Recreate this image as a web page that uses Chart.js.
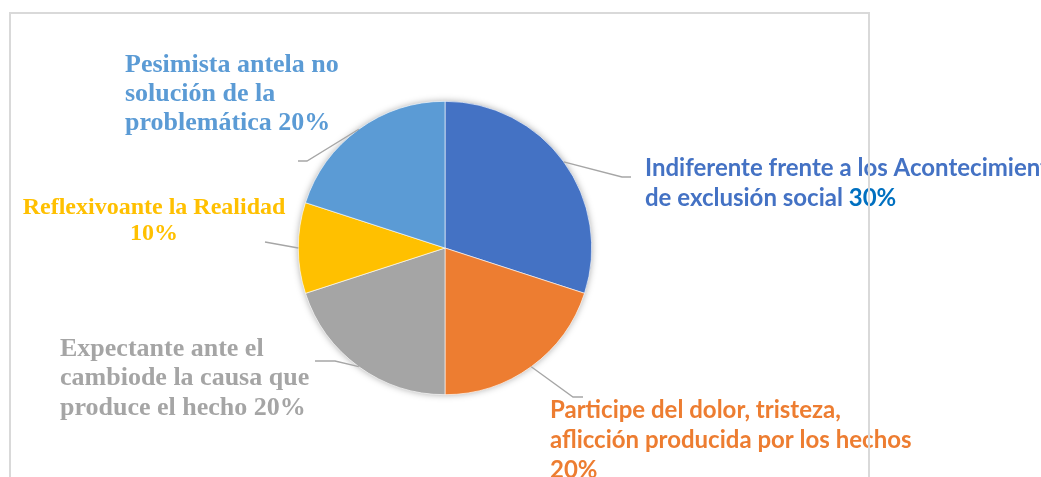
<!DOCTYPE html>
<html>
<head>
<meta charset="utf-8">
<script src="https://cdn.jsdelivr.net/npm/chart.js@4.4.0/dist/chart.umd.min.js"></script>
<style>
  body { margin: 0; background: #fff; }
  #chart { display: block; }
</style>
</head>
<body>
<canvas id="chart" width="1041" height="477"></canvas>
<script>
// data
const categories = [
  'Indiferente frente a los Acontecimientos de exclusión social',
  'Participe del dolor, tristeza, aflicción producida por los hechos',
  'Expectante ante el cambiode la causa que produce el hecho',
  'Reflexivoante la Realidad',
  'Pesimista antela no solución de la problemática'
];
const values = [30, 20, 20, 10, 20];
const colors = ['#4472C4', '#ED7D31', '#A5A5A5', '#FFC000', '#5B9BD5'];

// how each label is wrapped (the percent is added from values)
const labelLines = [
  ['Indiferente frente a los Acontecimientos', 'de exclusión social '],
  ['Participe del dolor, tristeza,', 'aflicción producida por los hechos', ''],
  ['Expectante ante el', 'cambiode la causa que', 'produce el hecho '],
  ['Reflexivoante la Realidad', ''],
  ['Pesimista antela no', 'solución de la', 'problemática ']
];

// label placement: text anchor, alignment, font, leader line points
const labelLayout = [
  { x: 645, y: 168, align: 'left', font: 'bold 24px Lato', lh: 30, leader: [[622, 177], [631, 177]], pctColor: '#0070C0' },
  { x: 550, y: 410, align: 'left', font: 'bold 24px Lato', lh: 30, leader: [[573, 397], [583, 397]] },
  { x: 60, y: 349, align: 'left', font: 'bold 26px "Liberation Serif"', lh: 29.5, leader: [[335, 361], [315, 361]] },
  { x: 154, y: 208, align: 'center', font: 'bold 24px "Liberation Serif"', lh: 26, leader: [[265, 242]] },
  { x: 125, y: 65, align: 'left', font: 'bold 26px "Liberation Serif"', lh: 29, leader: [[307, 161], [298, 161]] }
];

const pieExtras = {
  id: 'pieExtras',
  beforeDatasetsDraw(chart) {
    const ctx = chart.ctx;
    const arc = chart.getDatasetMeta(0).data[0];
    const p = arc.getProps(['x', 'y', 'outerRadius'], true);
    ctx.save();
    ctx.shadowColor = 'rgba(0,0,0,0.35)';
    ctx.shadowBlur = 7;
    ctx.fillStyle = '#fff';
    ctx.beginPath();
    ctx.arc(p.x, p.y, p.outerRadius, 0, Math.PI * 2);
    ctx.fill();
    ctx.restore();
  },
  afterDatasetsDraw(chart) {
    const ctx = chart.ctx;
    const meta = chart.getDatasetMeta(0);
    ctx.save();
    meta.data.forEach((arc, i) => {
      const p = arc.getProps(['x', 'y', 'startAngle', 'endAngle', 'outerRadius'], true);
      const mid = (p.startAngle + p.endAngle) / 2;
      const L = labelLayout[i];
      // leader line
      ctx.strokeStyle = '#A6A6A6';
      ctx.lineWidth = 1.3;
      ctx.beginPath();
      ctx.moveTo(p.x + p.outerRadius * Math.cos(mid), p.y + p.outerRadius * Math.sin(mid));
      L.leader.forEach(pt => ctx.lineTo(pt[0], pt[1]));
      ctx.stroke();
      // label text
      ctx.font = L.font;
      ctx.textBaseline = 'middle';
      ctx.textAlign = L.align;
      const lines = labelLines[i];
      const pct = values[i] + '%';
      lines.forEach((t, j) => {
        const y = L.y + j * L.lh;
        ctx.fillStyle = colors[i];
        if (j < lines.length - 1) {
          ctx.fillText(t, L.x, y);
        } else if (L.align === 'left') {
          ctx.fillText(t, L.x, y);
          const w = ctx.measureText(t).width;
          ctx.fillStyle = L.pctColor || colors[i];
          ctx.fillText(pct, L.x + w, y);
        } else {
          ctx.fillText(t + pct, L.x, y);
        }
      });
    });
    // chart frame
    ctx.strokeStyle = '#D9D9D9';
    ctx.lineWidth = 2;
    ctx.beginPath();
    ctx.moveTo(10, 477);
    ctx.lineTo(10, 13);
    ctx.lineTo(869, 13);
    ctx.lineTo(869, 477);
    ctx.stroke();
    ctx.restore();
  }
};

new Chart(document.getElementById('chart').getContext('2d'), {
  type: 'pie',
  data: {
    labels: categories,
    datasets: [{
      data: values,
      backgroundColor: colors,
      borderColor: '#ffffff',
      borderWidth: 0.6
    }]
  },
  options: {
    responsive: false,
    animation: false,
    devicePixelRatio: 1,
    layout: { padding: { left: 298, right: 449, top: 101, bottom: 82 } },
    plugins: {
      legend: { display: false },
      tooltip: { enabled: false }
    }
  },
  plugins: [pieExtras]
});
</script>
</body>
</html>
